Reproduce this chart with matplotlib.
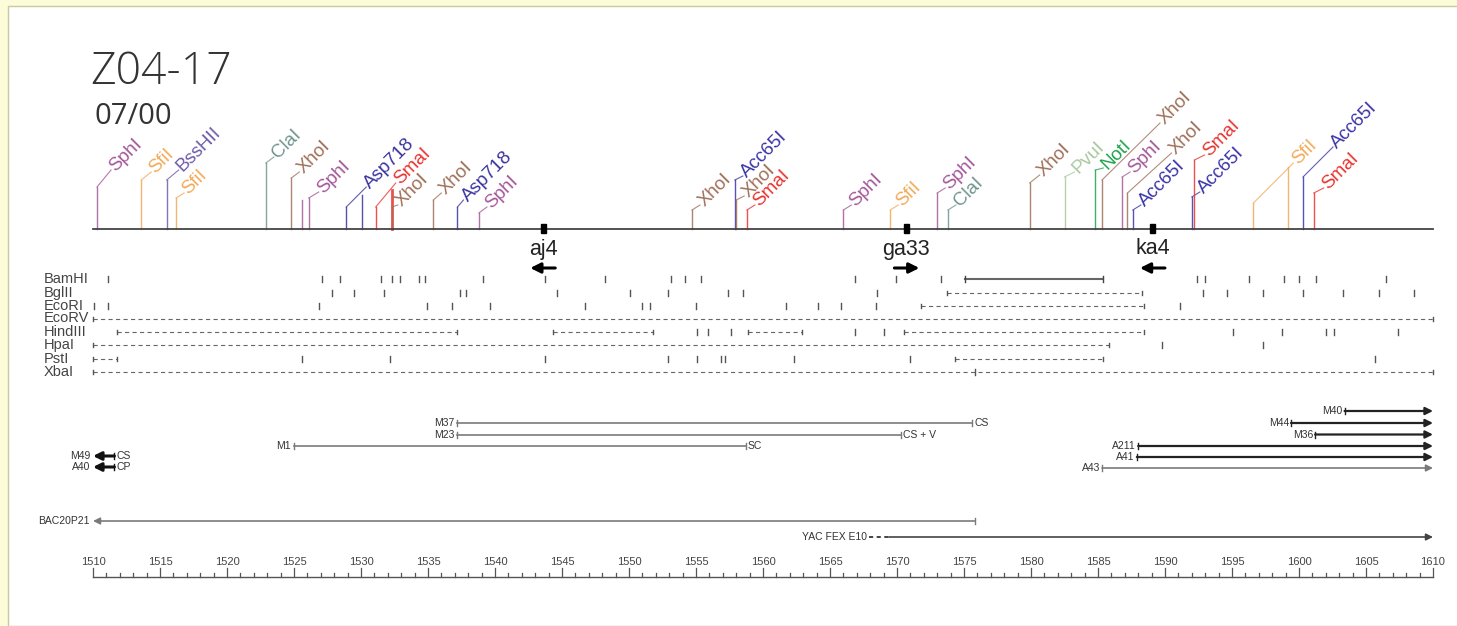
import numpy as np
import matplotlib.pyplot as plt
from matplotlib.patches import Rectangle

plt.rcParams['font.family'] = ['Liberation Sans', 'DejaVu Sans']
plt.rcParams['lines.scale_dashes'] = False

# Map scale: 1510..1610 spread over pixel columns 93..1433
G0, G1 = 1510, 1610
PXL, PXR = 93, 1433
PX = (G1 - G0) / (PXR - PXL)


def gx(px):
    return G0 + (px - PXL) * PX


# ---- restriction sites on the main map ----
SITE_POS = [1510.3, 1513.6, 1515.5, 1516.2, 1522.9, 1524.8, 1525.6, 1526.1,
            1528.9, 1530.1, 1531.1, 1532.3, 1532.3, 1535.4, 1537.2, 1538.8,
            1554.7, 1557.9, 1558.0, 1558.8, 1566.0, 1569.5, 1573.0, 1573.8,
            1579.9, 1582.5, 1584.8, 1585.3, 1586.8, 1587.2, 1587.6,
            1592.0, 1592.2, 1596.6, 1599.2, 1600.3, 1601.1]
SITE_ENZ = ['SphI', 'SfiI', 'BssHII', 'SfiI', 'ClaI', 'XhoI', 'SphI', 'SphI',
            'Asp718', 'Asp718', 'SmaI', 'SmaI', 'XhoI', 'XhoI', 'Asp718', 'SphI',
            'XhoI', 'Acc65I', 'XhoI', 'SmaI', 'SphI', 'SfiI', 'SphI', 'ClaI',
            'XhoI', 'PvuI', 'NotI', 'XhoI', 'SphI', 'XhoI', 'Acc65I',
            'Acc65I', 'SmaI', 'SfiI', 'SfiI', 'Acc65I', 'SmaI']

# stem top (pixel row), leader end offset (px) and label row; None = no label
STEM_TOP = [187, 180, 180, 198, 163, 178, 200, 198,
            207, 195, 207, 190, 207, 200, 207, 213,
            210, 180, 200, 210, 210, 210, 193, 210,
            183, 177, 170, 180, 177, 193, 210,
            197, 160, 203, 167, 177, 193]
LEAD_DX = [14, 10, 12, 8, 8, 8, None, 10,
           20, None, 20, None, 6, 8, 6, 8,
           8, 8, 8, 8, 8, 8, 8, 8,
           10, 10, 8, 58, 8, 44, 8,
           8, 10, 40, None, 30, 10]
LEAD_Y = [170, 172, 170, 193, 157, 172, None, 192,
          187, None, 183, None, 205, 193, 200, 207,
          205, 176, 196, 205, 205, 205, 188, 205,
          175, 172, 168, 123, 172, 153, 205,
          192, 155, 163, None, 147, 188]

ENZ_COLOR = {'SphI': '#a4589a', 'SfiI': '#f2aa58', 'BssHII': '#6e5aa8',
             'ClaI': '#6f948e', 'XhoI': '#a0705a', 'Asp718': '#3a34a0',
             'SmaI': '#e8332e', 'Acc65I': '#3a34a8', 'PvuI': '#a9c8a0',
             'NotI': '#1ea34e'}

# ---- STS markers ----
MARKER_NAMES = ['aj4', 'ga33', 'ka4']
MARKER_POS = [1543.6, 1570.7, 1589.1]
MARKER_DIR = [-1, 1, -1]

# ---- single-enzyme rows ----
ROW_ENZ = ['BamHI', 'BglII', 'EcoRI', 'EcoRV', 'HindIII', 'HpaI', 'PstI', 'XbaI']
ROW_SITES = {
    'BamHI': [1511.1, 1527.1, 1528.4, 1531.5, 1532.3, 1532.9, 1534.3, 1534.8,
              1539.1, 1543.7, 1548.2, 1553.1, 1554.2, 1555.4, 1566.9, 1569.9,
              1573.3, 1592.4, 1593.0, 1596.3, 1598.9, 1600.0, 1601.3, 1606.5],
    'BglII': [1527.8, 1529.5, 1531.7, 1537.4, 1537.8, 1544.6, 1550.1, 1552.9,
              1557.4, 1558.5, 1568.5, 1592.8, 1594.6, 1597.3, 1600.3, 1603.3,
              1606.0, 1608.6],
    'EcoRI': [1510.1, 1511.1, 1526.9, 1534.9, 1536.8, 1539.6, 1546.7, 1551.0,
              1551.6, 1555.0, 1561.7, 1564.1, 1565.8, 1568.4, 1591.1],
    'EcoRV': [],
    'HindIII': [1555.1, 1555.9, 1557.6, 1566.9, 1569.0, 1595.1, 1598.7,
                1602.0, 1602.6, 1607.4],
    'HpaI': [1589.8, 1597.3],
    'PstI': [1525.6, 1532.2, 1543.7, 1552.9, 1555.1, 1556.9, 1557.2, 1562.3,
             1571.0, 1605.7],
    'XbaI': [1575.8],
}
ROW_SOLID = {'BamHI': [(1575.1, 1585.4)]}
ROW_DASHED = {
    'BglII': [(1573.7, 1588.3)],
    'EcoRI': [(1571.8, 1588.4)],
    'EcoRV': [(1510.0, 1610.0)],
    'HindIII': [(1511.8, 1537.2), (1544.3, 1551.8), (1558.9, 1562.9),
                (1570.5, 1588.4)],
    'HpaI': [(1510.0, 1585.8)],
    'PstI': [(1510.0, 1511.8), (1574.3, 1585.4)],
    'XbaI': [(1510.0, 1610.0)],
}

# ---- clones ----
CLONE_NAMES = ['M40', 'M37', 'M44', 'M23', 'M36', 'M1', 'A211', 'M49', 'A41',
               'A40', 'A43', 'BAC20P21', 'YAC FEX E10']
CLONE_START = [1603.4, 1537.2, 1599.4, 1537.2, 1601.2, 1525.0, 1588.0, 1510.0,
               1587.9, 1510.0, 1585.3, 1510.0, 1569.4]
CLONE_END = [1610.0, 1575.6, 1610.0, 1570.3, 1610.0, 1558.7, 1610.0, 1511.6,
             1610.0, 1511.6, 1610.0, 1575.8, 1610.0]
CLONE_NOTE = ['', 'CS', '', 'CS + V', '', 'SC', '', 'CS', '', 'CP', '', '', '']
YAC_DASH = (1567.9, 1569.4)

CLONE_Y = [411, 423, 423, 434.5, 434.5, 446, 446, 456, 457, 467, 468, 521, 537]
CLONE_DIR = [1, 0, 1, 0, 1, 0, 1, -1, 1, -1, 1, -1, 1]
CLONE_STYLE = ['dark', 'grey', 'dark', 'grey', 'dark', 'grey', 'dark', 'bold',
               'dark', 'bold', 'grey', 'grey', 'grey']

# ---- figure ----
fig = plt.figure(figsize=(14.57, 6.26), dpi=100)
fig.patch.set_facecolor('#fdfcd8')
fig.patches.append(Rectangle((8 / 1457, 0), 1, 1 - 6 / 626, transform=fig.transFigure,
                             facecolor='white', edgecolor='#c9c8a0', lw=1.0,
                             zorder=-1))
ax = fig.add_axes([0, 0, 1, 1])
ax.set_xlim(gx(0), gx(1457))
ax.set_ylim(626, 0)
ax.axis('off')

ax.text(gx(90), 84, 'Z04-17', fontsize=32, color='#333333',
        family=['Open Sans', 'DejaVu Sans'], fontweight='light', va='baseline')
ax.text(gx(94), 124, '07/00', fontsize=21, color='#333333',
        family=['Open Sans', 'DejaVu Sans'], va='baseline')

# main map line
LINE_Y = 229
ax.plot([G0, G1], [LINE_Y, LINE_Y], color='#444444', lw=1.3, zorder=3)

for pos, enz, top, dx, ly in zip(SITE_POS, SITE_ENZ, STEM_TOP, LEAD_DX, LEAD_Y):
    c = ENZ_COLOR[enz]
    lw = 2.0 if (enz == 'SmaI' and dx is None) else 1.0
    ax.plot([pos, pos], [LINE_Y, top], color=c, lw=lw, alpha=0.85, zorder=2)
    if dx is None:
        continue
    ex = pos + dx * PX
    ax.plot([pos, ex], [top, ly], color=c, lw=0.8, alpha=0.8)
    ax.text(ex + 1 * PX, ly - 1, enz, color=c, fontsize=13.5, rotation=45,
            rotation_mode='anchor', ha='left', va='center')

for name, pos, d in zip(MARKER_NAMES, MARKER_POS, MARKER_DIR):
    ax.add_patch(Rectangle((pos - 2.5 * PX, LINE_Y - 5), 5 * PX, 9,
                           facecolor='black', edgecolor='black', zorder=4))
    ax.text(pos, 249, name, fontsize=15.5, ha='center', va='center', color='#222222')
    ax.annotate('', xy=(pos + d * 13 * PX, 268), xytext=(pos - d * 12 * PX, 268),
                arrowprops=dict(arrowstyle='-|>', color='black', lw=2.2,
                                mutation_scale=15, shrinkA=0, shrinkB=0))

# enzyme rows
ROW_Y = [279, 292.5, 306, 318.5, 332, 345, 359, 372]
for enz, y in zip(ROW_ENZ, ROW_Y):
    ax.text(gx(44), y, enz, fontsize=10.5, color='#444444', ha='left', va='center')
    for s in ROW_SITES[enz]:
        ax.plot([s, s], [y - 3, y + 3], color='#555555', lw=1.0)
    for a, b in ROW_SOLID.get(enz, []):
        ax.plot([a, b], [y, y], color='#666666', lw=1.5)
        for e in (a, b):
            ax.plot([e, e], [y - 3, y + 3], color='#444444', lw=1.0)
    for a, b in ROW_DASHED.get(enz, []):
        ax.plot([a, b], [y, y], color='#666666', lw=0.8, dashes=(3, 2.4))
        for e in (a, b):
            ax.plot([e, e], [y - 2, y + 2], color='#555555', lw=1.0)

# clone lines
STYLE = {'dark': ('#222222', 1.6, 11), 'grey': ('#7a7a7a', 1.2, 10),
         'bold': ('#111111', 2.2, 12)}
for name, a, b, note, y, d, st in zip(CLONE_NAMES, CLONE_START, CLONE_END,
                                      CLONE_NOTE, CLONE_Y, CLONE_DIR, CLONE_STYLE):
    c, lw, ms = STYLE[st]
    if name.startswith('YAC'):
        # the YAC starts with an uncertain, dashed stretch
        ax.plot(YAC_DASH, [y, y], color='#444444', lw=1.4, dashes=(3, 2.5))
        ax.annotate('', xy=(b, y), xytext=(a, y),
                    arrowprops=dict(arrowstyle='-|>', color='#444444', lw=1.2,
                                    mutation_scale=ms, shrinkA=0, shrinkB=0))
        ax.text(YAC_DASH[0] - 2 * PX, y, name, fontsize=7.5, ha='right',
                va='center', color='#333333')
        continue
    if d == 1:
        ax.annotate('', xy=(b, y), xytext=(a, y),
                    arrowprops=dict(arrowstyle='-|>', color=c, lw=lw,
                                    mutation_scale=ms, shrinkA=0, shrinkB=0))
        ax.plot([a, a], [y - 3, y + 3], color=c, lw=1.0)
        ax.text(a - 2 * PX, y, name, fontsize=7.5, ha='right', va='center',
                color='#333333')
    elif d == -1:
        ax.annotate('', xy=(a, y), xytext=(b, y),
                    arrowprops=dict(arrowstyle='-|>', color=c, lw=lw,
                                    mutation_scale=ms, shrinkA=0, shrinkB=0))
        ax.plot([b, b], [y - 3, y + 3], color=c, lw=1.0)
        ax.text(a - 3 * PX, y, name, fontsize=7.5, ha='right', va='center',
                color='#333333')
    else:
        ax.plot([a, b], [y, y], color=c, lw=lw)
        for e in (a, b):
            ax.plot([e, e], [y - 3, y + 3], color=c, lw=1.0)
        ax.text(a - 3 * PX, y, name, fontsize=7.5, ha='right', va='center',
                color='#333333')
    if note:
        ax.text(b + 2 * PX, y, note, fontsize=7.5, ha='left', va='center',
                color='#333333')

# position ruler
AXIS_Y = 577
ticks = np.arange(G0, G1 + 1)
ax.plot([G0, G1], [AXIS_Y, AXIS_Y], color='#555555', lw=1.0)
for t in ticks:
    h = 9 if t % 5 == 0 else 4
    ax.plot([t, t], [AXIS_Y, AXIS_Y - h], color='#555555', lw=0.9)
    if t % 5 == 0:
        ax.text(t, 562, str(t), fontsize=8, ha='center', va='center',
                color='#444444')

fig.savefig('out.png', dpi=100, facecolor=fig.get_facecolor())
